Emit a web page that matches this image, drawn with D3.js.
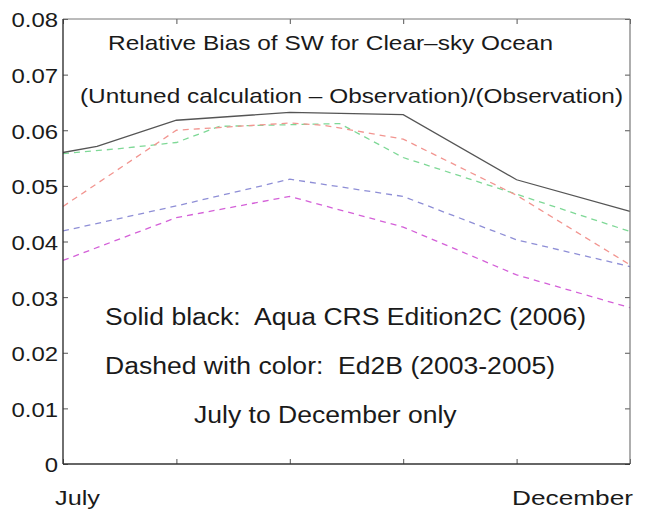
<!DOCTYPE html>
<html>
<head>
<meta charset="utf-8">
<script src="https://cdn.jsdelivr.net/npm/d3@7"></script>
<style>
  html, body { margin: 0; padding: 0; background: #fff; }
  svg { display: block; }
  text { font-family: "Liberation Sans", Arial, Helvetica, sans-serif; fill: #1a1a1a; white-space: pre; }
</style>
</head>
<body>
<svg id="chart" width="649" height="516"></svg>
<script>
// ---------------- data (month index: 0 = July ... 5 = December) ----------------
const xTickMonths = [0, 1, 2, 3, 4, 5];
const xTickLabels = ["July", "", "", "", "", "December"];
const yTickValues = [0, 0.01, 0.02, 0.03, 0.04, 0.05, 0.06, 0.07, 0.08];
const yTickLabels = ["0", "0.01", "0.02", "0.03", "0.04", "0.05", "0.06", "0.07", "0.08"];

// Solid black: Aqua CRS Edition2C (2006)
const blackMonths = [0, 0.3, 1, 2, 3, 4, 5];
const blackValues = [0.0560, 0.0571, 0.0618, 0.0632, 0.0628, 0.0511, 0.0454];

// Dashed with colour: Ed2B (2003-2005)
const greenMonths = [0, 0.5, 1, 1.38, 2, 2.44, 3, 4, 5];
const greenValues = [0.0558, 0.0567, 0.0578, 0.0607, 0.0610, 0.0612, 0.0551, 0.0485, 0.0418];

const redMonths = [0, 1, 2, 2.3, 3, 4, 5];
const redValues = [0.0463, 0.0600, 0.0613, 0.0609, 0.0584, 0.0483, 0.0358];

const blueMonths = [0, 1, 2, 3, 4, 5];
const blueValues = [0.0419, 0.0464, 0.0512, 0.0481, 0.0403, 0.0355];

const magentaMonths = [0, 1, 2, 3, 4, 5];
const magentaValues = [0.0366, 0.0443, 0.0481, 0.0426, 0.0340, 0.0281];

const titleLines = ["Relative Bias of SW for Clear\u2013sky Ocean",
                    "(Untuned calculation \u2013 Observation)/(Observation)"];
const noteLines = ["Solid black:  Aqua CRS Edition2C (2006)",
                   "Dashed with color:  Ed2B (2003-2005)",
                   "July to December only"];

// ---------------- layout ----------------
const svg = d3.select("#chart");
const plot = { left: 63, top: 19, right: 630, bottom: 464 };

const x = d3.scaleLinear().domain([0, 5]).range([plot.left, plot.right]);
const y = d3.scaleLinear().domain([0, 0.08]).range([plot.bottom, plot.top]);

const SX = 1.14; // horizontal stretch of the original typography

// ---------------- axes (inward ticks on all four sides) ----------------
const gLeft = svg.append("g").attr("transform", `translate(${plot.left},0)`)
  .call(d3.axisLeft(y).tickValues(yTickValues).tickSize(-5).tickPadding(5)
        .tickFormat((d, i) => yTickLabels[i]));
const gRight = svg.append("g").attr("transform", `translate(${plot.right},0)`)
  .call(d3.axisRight(y).tickValues(yTickValues).tickSize(-5).tickFormat(""));
const gBottom = svg.append("g").attr("transform", `translate(0,${plot.bottom})`)
  .call(d3.axisBottom(x).tickValues(xTickMonths).tickSize(-5).tickFormat(""));
const gTop = svg.append("g").attr("transform", `translate(0,${plot.top})`)
  .call(d3.axisTop(x).tickValues(xTickMonths).tickSize(-5).tickFormat(""));

[gLeft, gRight, gBottom, gTop].forEach(g => {
  g.select(".domain").remove();
  g.selectAll(".tick line").attr("stroke", "#555").attr("stroke-width", 1);
});

gLeft.selectAll(".tick text")
  .attr("font-family", "'Liberation Sans', Arial, sans-serif")
  .attr("font-size", 21)
  .attr("fill", "#1a1a1a")
  .attr("x", -5 / SX)
  .attr("dy", "0.38em")
  .attr("transform", `scale(${SX},1)`);

// month labels below the axis
const monthLabelSpecs = xTickMonths
  .map((m, i) => ({ m, label: xTickLabels[i], first: i === 0 }))
  .filter(d => d.label !== "");
svg.append("g").selectAll("text")
  .data(monthLabelSpecs)
  .join("text")
  .attr("x", d => d.first ? x(d.m) - 8 : x(d.m) + 3)
  .attr("y", 505)
  .attr("text-anchor", d => d.first ? "start" : "end")
  .attr("font-size", 21)
  .attr("fill", "#2a2a2a")
  .attr("textLength", d => d.first ? 45 : 121)
  .attr("lengthAdjust", "spacingAndGlyphs")
  .text(d => d.label);

// ---------------- lines ----------------
const line = d3.line().x(d => x(d[0])).y(d => y(d[1]));
const zip = (a, b) => a.map((m, i) => [m, b[i]]);

const dashed = [
  { pts: zip(greenMonths, greenValues),     color: "#7ed896" },
  { pts: zip(redMonths, redValues),         color: "#f29590" },
  { pts: zip(blueMonths, blueValues),       color: "#8e8ed6" },
  { pts: zip(magentaMonths, magentaValues), color: "#d460d8" }
];

svg.append("g").selectAll("path")
  .data(dashed)
  .join("path")
  .attr("d", d => line(d.pts))
  .attr("fill", "none")
  .attr("stroke", d => d.color)
  .attr("stroke-width", 1.3)
  .attr("stroke-dasharray", "6,5");

svg.append("path")
  .attr("d", line(zip(blackMonths, blackValues)))
  .attr("fill", "none")
  .attr("stroke", "#555")
  .attr("stroke-width", 1.3);

// ---------------- frame ----------------
svg.append("line").attr("x1", plot.left).attr("x2", plot.right)
  .attr("y1", plot.top).attr("y2", plot.top).attr("stroke", "#777").attr("stroke-width", 1);
svg.append("line").attr("x1", plot.right).attr("x2", plot.right)
  .attr("y1", plot.top).attr("y2", plot.bottom).attr("stroke", "#777").attr("stroke-width", 1.2);
svg.append("line").attr("x1", plot.left).attr("x2", plot.left)
  .attr("y1", plot.top).attr("y2", plot.bottom).attr("stroke", "#333").attr("stroke-width", 1.4);
svg.append("line").attr("x1", plot.left).attr("x2", plot.right)
  .attr("y1", plot.bottom).attr("y2", plot.bottom).attr("stroke", "#333").attr("stroke-width", 1.4);

// ---------------- titles & notes ----------------
const titleSpecs = [
  { text: titleLines[0], x: 108, y: 50, len: 445 },
  { text: titleLines[1], x: 80,  y: 103, len: 543 }
];
svg.append("g").selectAll("text")
  .data(titleSpecs)
  .join("text")
  .attr("x", d => d.x).attr("y", d => d.y)
  .attr("font-size", 21)
  .attr("textLength", d => d.len)
  .attr("lengthAdjust", "spacingAndGlyphs")
  .text(d => d.text);

const noteSpecs = [
  { text: noteLines[0], x: 105, y: 325 },
  { text: noteLines[1], x: 105, y: 374 },
  { text: noteLines[2], x: 194, y: 423 }
];
svg.append("g").selectAll("text")
  .data(noteSpecs)
  .join("text")
  .attr("transform", d => `translate(${d.x},${d.y}) scale(1.13,1)`)
  .attr("font-size", 23.5)
  .text(d => d.text);
</script>
</body>
</html>
